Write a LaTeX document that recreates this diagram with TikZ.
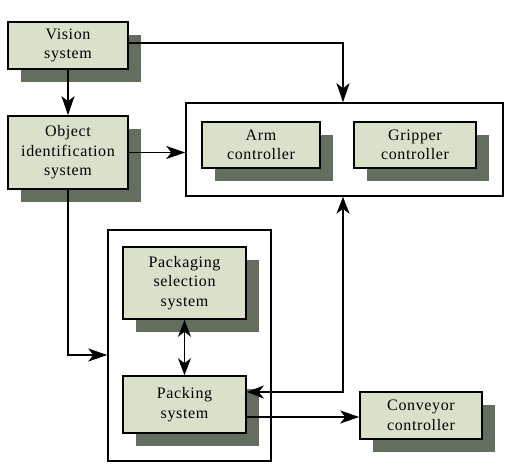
\documentclass[tikz,border=0pt]{standalone}
\usepackage{fontspec}
\setmainfont{Liberation Serif}[LetterSpace=4]
\usetikzlibrary{arrows.meta,shadows,calc}
\definecolor{boxfill}{HTML}{D9E1CB}
\definecolor{shadowc}{HTML}{646E5E}
\tikzset{
  sysbox/.style={draw=black, line width=1.6pt, fill=boxfill, align=center,
    inner sep=0pt, font=\fontsize{16}{19.5}\selectfont,
    general shadow={shadow xshift=13pt, shadow yshift=-13pt, fill=shadowc}},
  groupbox/.style={draw=black, line width=1.5pt},
  tip/.style={Stealth[length=19pt,width=13pt,inset=5pt]},
  conn/.style={line width=1.6pt, -{Stealth[length=19pt,width=13pt,inset=5pt]}},
  dconn/.style={line width=1.6pt, {Stealth[length=17pt,width=13pt,inset=5pt]}-{Stealth[length=17pt,width=13pt,inset=5pt]}}
}
\begin{document}
\begin{tikzpicture}[x=1pt,y=-1pt]
\useasboundingbox (0,0) rectangle (517,472);
% group boxes
\node[groupbox, minimum width=317pt, minimum height=93pt, inner sep=0pt] (top) at (344.5,149.5) {};
\node[groupbox, minimum width=163pt, minimum height=231pt, inner sep=0pt] (grp) at (189.5,345.5) {};
% system boxes
\node[sysbox, minimum width=120pt, minimum height=47pt] (vis) at (68,45.5) {Vision\\system};
\node[sysbox, minimum width=120pt, minimum height=73pt] (obj) at (68,152.5) {Object\\identification\\system};
\node[sysbox, minimum width=118pt, minimum height=46pt] (arm) at (261,145) {Arm\\controller};
\node[sysbox, minimum width=122pt, minimum height=46pt] (grip) at (415,145) {Gripper\\controller};
\node[sysbox, minimum width=123pt, minimum height=72pt] (sel) at (184.5,283) {Packaging\\selection\\system};
\node[sysbox, minimum width=123pt, minimum height=57pt] (pack) at (184.5,404.5) {Packing\\system};
\node[sysbox, minimum width=122pt, minimum height=47pt] (conv) at (421,415.5) {Conveyor\\controller};
\coordinate (vc) at (343,43);
\coordinate (oc) at (68,355);
\coordinate (rc) at (343,392);
% connectors
\draw[conn] (vis.east |- vc) -- (vc) -- (vc |- top.north);
\draw[conn] (vis) -- (obj);
\draw[conn] (obj.east) -- (obj.east -| top.west);
\draw[conn] (obj.south) -- (oc) -- (oc -| grp.west);
\draw[dconn] (sel) -- (pack);
\draw[dconn] (pack.east |- rc) -- (rc) -- (rc |- top.south);
\draw[conn] (pack.east |- 0,417) -- (conv.west |- 0,417);
\end{tikzpicture}
\end{document}
